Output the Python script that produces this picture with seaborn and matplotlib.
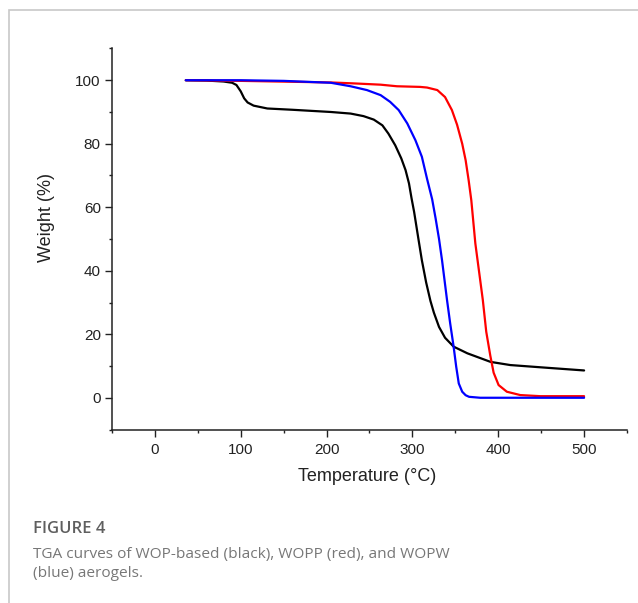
import matplotlib
matplotlib.use('Agg')
import matplotlib.pyplot as plt
import seaborn as sns
from matplotlib.ticker import MultipleLocator
from matplotlib.patches import Rectangle

# Style
sns.set_style("ticks")
plt.rcParams['font.family'] = ['Liberation Sans', 'DejaVu Sans']

# TGA data (temperature in C, weight in %)
wop_temp = [36, 60, 80, 90, 95, 100, 104, 108, 115, 131, 160, 205, 228, 243, 255, 265, 272,
            280, 287, 292, 296, 299, 302, 307, 311, 316, 321, 325, 331, 338, 348, 364, 391,
            414, 449, 500]
wop_weight = [100, 99.9, 99.6, 99.2, 98.5, 96.5, 94.3, 93.0, 92.0, 91.1, 90.7, 90.0, 89.5,
              88.7, 87.6, 85.8, 83.2, 79.5, 75.4, 71.7, 67.5, 62.8, 58.5, 50.0, 43.3, 36.3,
              30.5, 26.8, 22.3, 18.9, 16.1, 14.0, 11.3, 10.3, 9.6, 8.6]

wopp_temp = [36, 100, 205, 232, 263, 282, 309, 317, 329, 338, 346, 352, 358, 362, 365.5,
             368.6, 373.3, 378, 382, 386, 390.7, 394.6, 400.4, 410, 425.6, 449, 500]
wopp_weight = [100, 99.8, 99.3, 99.0, 98.6, 98.1, 97.9, 97.7, 96.9, 94.7, 90.6, 86.0, 80.0,
               74.8, 68.5, 62.2, 48.6, 39.0, 30.8, 20.8, 13.3, 7.9, 4.0, 1.9, 0.85, 0.5, 0.5]

wopw_temp = [36, 100, 150, 205, 228, 247, 263, 274, 284, 294, 303.5, 311, 317, 323, 327,
             331, 334.5, 340.3, 344, 348, 351, 354, 358, 362, 366, 379, 450, 500]
wopw_weight = [100, 100, 99.8, 99.2, 98.1, 96.9, 95.3, 93.2, 90.6, 86.4, 81.1, 75.9, 69.0,
               62.5, 56.5, 50.0, 43.3, 30.8, 23.4, 16.1, 9.8, 4.5, 1.9, 0.8, 0.3, 0.0, 0.0, 0.0]

x_ticks = [0, 100, 200, 300, 400, 500]
y_ticks = [0, 20, 40, 60, 80, 100]

fig = plt.figure(figsize=(6.38, 6.03), dpi=100)
ax = fig.add_axes([0.1755, 0.2877, 0.8073, 0.6319])

# Curves: black, red, then blue on top
sns.lineplot(x=wop_temp, y=wop_weight, color='black', linewidth=1.6, sort=False, ax=ax)
sns.lineplot(x=wopp_temp, y=wopp_weight, color='#ff0000', linewidth=1.6, sort=False, ax=ax)
sns.lineplot(x=wopw_temp, y=wopw_weight, color='#0000ff', linewidth=1.6, sort=False, ax=ax)

ax.set_xlim(-50, 550)
ax.set_ylim(-10, 110)
ax.set_xticks(x_ticks)
ax.set_yticks(y_ticks)
ax.xaxis.set_minor_locator(MultipleLocator(50))
ax.yaxis.set_minor_locator(MultipleLocator(10))

sns.despine(ax=ax)
for side in ['left', 'bottom']:
    ax.spines[side].set_linewidth(1.1)
    ax.spines[side].set_color('#222222')

ax.tick_params(which='major', direction='out', length=5, width=1.0, color='#222222',
               labelsize=11, labelcolor='#222222')
ax.tick_params(which='minor', direction='out', length=2.5, width=1.0, color='#222222')
ax.tick_params(axis='y', which='major', pad=3)
ax.tick_params(axis='x', which='major', pad=5)

ax.set_xlabel('Temperature (°C)', fontsize=13, color='#222222')
ax.set_ylabel('Weight (%)', fontsize=13, color='#222222')
ax.xaxis.set_label_coords(0.495, -0.10)
ax.yaxis.set_label_coords(-0.11, 0.556)

# Light frame around the figure panel
fig.add_artist(Rectangle((9 / 638, -0.1), 1.2, 1 - 10 / 603 + 0.1, transform=fig.transFigure,
                         fill=False, edgecolor='#c8c8c8', linewidth=1.2))

# Caption
cap_font = ['Open Sans', 'DejaVu Sans']
fig.text(33 / 638, 1 - 533 / 603, 'FIGURE 4', fontsize=12, fontweight='semibold',
         color='#5f5f5f', family=cap_font, va='baseline')
fig.text(33 / 638, 1 - 558 / 603, 'TGA curves of WOP-based (black), WOPP (red), and WOPW',
         fontsize=11.1, color='#777777', family=cap_font, va='baseline')
fig.text(33 / 638, 1 - 577 / 603, '(blue) aerogels.',
         fontsize=11.1, color='#777777', family=cap_font, va='baseline')

plt.savefig('out.png', dpi=100)
plt.close()
